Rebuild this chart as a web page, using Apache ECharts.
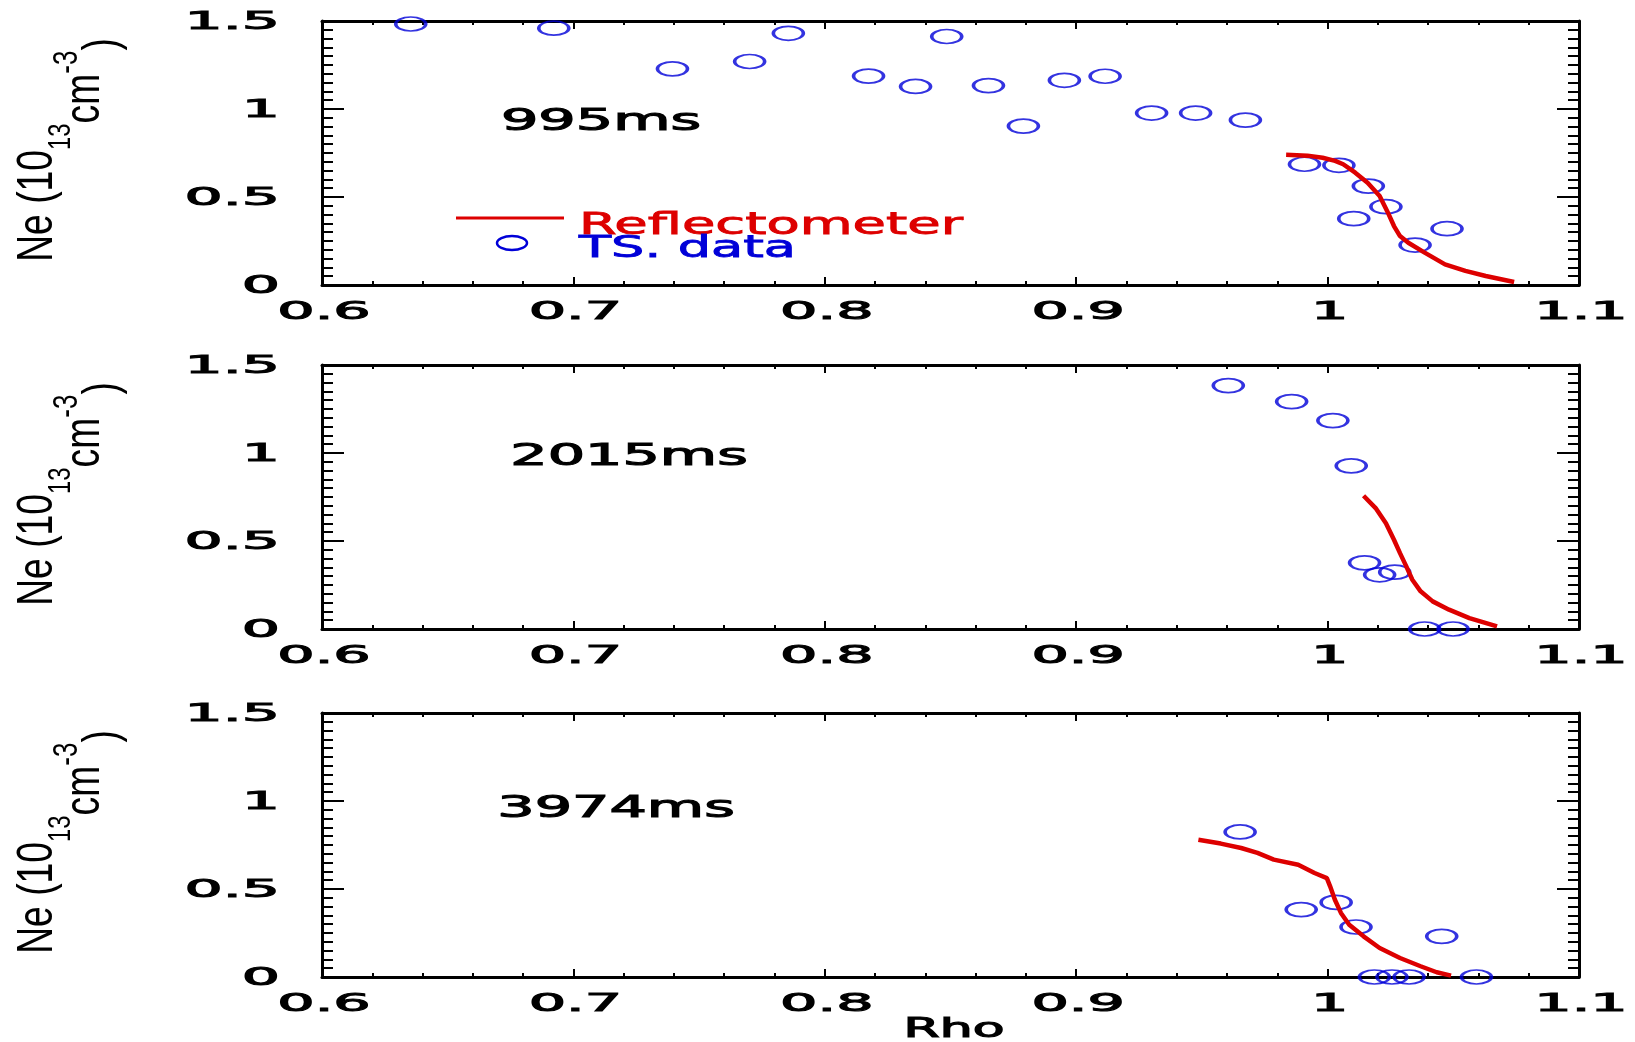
<!DOCTYPE html>
<html>
<head>
<meta charset="utf-8">
<script src="https://cdn.jsdelivr.net/npm/echarts@6/dist/echarts.min.js"></script>
<style>
html,body{margin:0;padding:0;background:#fff;}
#chart{width:1635px;height:1042px;}
</style>
</head>
<body>
<div id="chart"></div>
<script>
// ---- tick labels ----
const xTickLabels = ['0.6', '0.7', '0.8', '0.9', '1', '1.1'];
const yTickLabels = ['0', '0.5', '1', '1.5'];
const panelTimes = ['995ms', '2015ms', '3974ms'];

// ---- TS (Thomson scattering) data ----
const ts995Rho = [0.6353, 0.6922, 0.7394, 0.7701, 0.7855, 0.8174, 0.8361, 0.8485, 0.8651, 0.8790, 0.8953, 0.9115, 0.9300, 0.9475, 0.9673, 0.9908, 1.0045, 1.0104, 1.0162, 1.0232, 1.0348, 1.0475];
const ts995Ne  = [1.483, 1.459, 1.228, 1.270, 1.430, 1.187, 1.128, 1.412, 1.133, 0.903, 1.163, 1.186, 0.977, 0.977, 0.937, 0.686, 0.680, 0.377, 0.562, 0.445, 0.227, 0.320];

const ts2015Rho = [0.9605, 0.9857, 1.0021, 1.0094, 1.0147, 1.0207, 1.0267, 1.0386, 1.0499];
const ts2015Ne  = [1.383, 1.292, 1.184, 0.927, 0.376, 0.308, 0.323, 0.0, 0.0];

const ts3974Rho = [0.9652, 0.9895, 1.0034, 1.0113, 1.0454, 1.0186, 1.0256, 1.0324, 1.0592];
const ts3974Ne  = [0.824, 0.383, 0.424, 0.284, 0.231, 0.0, 0.0, 0.0, 0.0];

// ---- Reflectometer profiles ----
const refl995Rho = [0.9835, 0.9920, 0.9980, 1.0030, 1.0062, 1.0110, 1.0159, 1.0207, 1.0240, 1.0264, 1.0288, 1.0321, 1.0386, 1.0467, 1.0548, 1.0629, 1.0742];
const refl995Ne  = [0.740, 0.735, 0.723, 0.705, 0.686, 0.638, 0.581, 0.506, 0.411, 0.335, 0.278, 0.240, 0.184, 0.117, 0.080, 0.051, 0.017];

const refl2015Rho = [1.0143, 1.0191, 1.0232, 1.0264, 1.0288, 1.0313, 1.0337, 1.0370, 1.0418, 1.0483, 1.0564, 1.0674];
const refl2015Ne  = [0.757, 0.687, 0.601, 0.507, 0.431, 0.356, 0.280, 0.214, 0.157, 0.110, 0.062, 0.015];

const refl3974Rho = [0.9486, 0.9575, 0.9656, 0.9721, 0.9786, 0.9883, 0.9948, 0.9997, 1.0010, 1.0029, 1.0053, 1.0086, 1.0143, 1.0207, 1.0288, 1.0370, 1.0434, 1.0491];
const refl3974Ne  = [0.780, 0.758, 0.733, 0.705, 0.667, 0.638, 0.591, 0.562, 0.515, 0.439, 0.364, 0.297, 0.231, 0.165, 0.108, 0.061, 0.027, 0.008];

const tsRho = [ts995Rho, ts2015Rho, ts3974Rho];
const tsNe = [ts995Ne, ts2015Ne, ts3974Ne];
const reflRho = [refl995Rho, refl2015Rho, refl3974Rho];
const reflNe = [refl995Ne, refl2015Ne, refl3974Ne];

const RED = '#dd0000';
const BLUE = '#0000d8';
const HFONT = 'DejaVu Sans';

const zip = (a, b) => a.map((v, i) => [v, b[i]]);

const gridTops = [21, 365, 713];
const gridLeft = 322, gridWidth = 1257, gridHeight = 264;

const grids = [], xAxes = [], yAxes = [], series = [], graphics = [];

function hText(x, y, text, opts) {
  return {
    type: 'text', x: x, y: y, scaleX: opts.scaleX || 1,
    style: {
      text: text, fontSize: opts.fontSize || 25, fontFamily: HFONT,
      fill: opts.color || '#000', stroke: opts.color || '#000', lineWidth: opts.stroke == null ? 0.9 : opts.stroke,
      align: opts.align || 'center', verticalAlign: 'middle'
    }
  };
}

for (let p = 0; p < 3; p++) {
  grids.push({ left: gridLeft, width: gridWidth, top: gridTops[p], height: gridHeight, containLabel: false });
  const xBase = {
    gridIndex: p, type: 'value', min: 0.6, max: 1.1, interval: 0.1,
    axisLine: { show: true, onZero: false, lineStyle: { color: '#000', width: 3 } },
    axisTick: { show: true, inside: true, length: 8, lineStyle: { color: '#000', width: 2 } },
    minorTick: { show: true, splitNumber: 5, length: 4, lineStyle: { color: '#000', width: 2 } },
    splitLine: { show: false }, minorSplitLine: { show: false },
    axisLabel: { show: false }
  };
  xAxes.push(Object.assign({}, xBase, { position: 'bottom' }));
  xAxes.push(Object.assign({}, xBase, { position: 'top' }));

  const yBase = {
    gridIndex: p, type: 'value', min: 0, max: 1.5, interval: 0.5,
    axisLine: { show: true, onZero: false, lineStyle: { color: '#000', width: 3 } },
    axisTick: { show: true, inside: true, length: 22, lineStyle: { color: '#000', width: 2 } },
    minorTick: { show: true, splitNumber: 10, length: 11, lineStyle: { color: '#000', width: 2 } },
    splitLine: { show: false }, minorSplitLine: { show: false },
    axisLabel: { show: false }
  };
  yAxes.push(Object.assign({}, yBase, { position: 'left' }));
  yAxes.push(Object.assign({}, yBase, { position: 'right' }));

  series.push({
    type: 'scatter', name: 'TS. data', xAxisIndex: 2 * p, yAxisIndex: 2 * p,
    data: zip(tsRho[p], tsNe[p]), symbol: 'circle', symbolSize: [30, 14],
    itemStyle: { color: 'rgba(0,0,0,0)', borderColor: BLUE, borderWidth: 2.5 },
    clip: false, silent: true, z: 2
  });
  series.push({
    type: 'line', name: 'Reflectometer', xAxisIndex: 2 * p, yAxisIndex: 2 * p,
    data: zip(reflRho[p], reflNe[p]), symbol: 'none', showSymbol: false,
    lineStyle: { color: RED, width: 4.5 }, silent: true, z: 3
  });

  // y axis title (rotated)
  graphics.push({
    type: 'text', x: 128, y: gridTops[p] + gridHeight / 2 - 3, rotation: Math.PI / 2, scaleX: 0.745,
    style: {
      text: '{a|Ne (10}{s|13}{b|cm}{u|-3}{c|)}',
      align: 'center', verticalAlign: 'bottom', fill: '#000',
      rich: {
        a: { fontSize: 50, fontFamily: 'Liberation Sans', verticalAlign: 'bottom', padding: [0, 0, 65, 0], fill: '#000' },
        s: { fontSize: 32, fontFamily: 'Liberation Sans', verticalAlign: 'bottom', padding: [0, 0, 51, 0], fill: '#000' },
        b: { fontSize: 50, fontFamily: 'Liberation Sans', verticalAlign: 'bottom', padding: [0, 0, 18, 0], fill: '#000' },
        u: { fontSize: 35, fontFamily: 'Liberation Sans', verticalAlign: 'bottom', padding: [0, 0, 43, 0], fill: '#000' },
        c: { fontSize: 50, fontFamily: 'Liberation Sans', verticalAlign: 'bottom', padding: [0, 0, 0, 0], fill: '#000' }
      }
    }
  });
}

// time labels
const timeLabelPos = [[601, 122], [629, 457], [616, 809]];
for (let p = 0; p < 3; p++) {
  graphics.push(hText(timeLabelPos[p][0], timeLabelPos[p][1], panelTimes[p], { fontSize: 30, scaleX: 1.96, stroke: 1.1 }));
}

// legend
graphics.push({ type: 'line', shape: { x1: 456, y1: 218, x2: 564, y2: 218 }, style: { stroke: RED, lineWidth: 3 } });
graphics.push({ type: 'ellipse', shape: { cx: 512, cy: 243, rx: 15, ry: 7 }, style: { fill: 'none', stroke: BLUE, lineWidth: 2.5 } });
graphics.push(hText(579, 226, 'Reflectometer', { fontSize: 30, scaleX: 1.81, color: RED, align: 'left', stroke: 0.8 }));
graphics.push(hText(579, 249, 'TS. data', { fontSize: 30, scaleX: 1.75, color: BLUE, align: 'left', stroke: 0.8 }));

// x axis title
graphics.push(hText(954, 1030, 'Rho', { fontSize: 26, scaleX: 2.0, stroke: 1.1 }));

const chart = echarts.init(document.getElementById('chart'), null, { renderer: 'canvas' });
chart.setOption({
  animation: false,
  backgroundColor: '#ffffff',
  grid: grids,
  xAxis: xAxes,
  yAxis: yAxes,
  series: series
});

// tick labels placed through the axes' own scales
for (let p = 0; p < 3; p++) {
  const axisY = gridTops[p] + gridHeight;
  xTickLabels.forEach(lbl => {
    const px = chart.convertToPixel({ xAxisIndex: 2 * p }, parseFloat(lbl));
    graphics.push(hText(px + 2, axisY + 27, lbl, { fontSize: 25, scaleX: 2.35, stroke: 1.0 }));
  });
  yTickLabels.forEach(lbl => {
    const py = chart.convertToPixel({ yAxisIndex: 2 * p }, parseFloat(lbl));
    graphics.push(hText(280, py + 1, lbl, { fontSize: 25, scaleX: 2.4, align: 'right', stroke: 1.0 }));
  });
}
chart.setOption({ graphic: { elements: graphics } });
</script>
</body>
</html>
